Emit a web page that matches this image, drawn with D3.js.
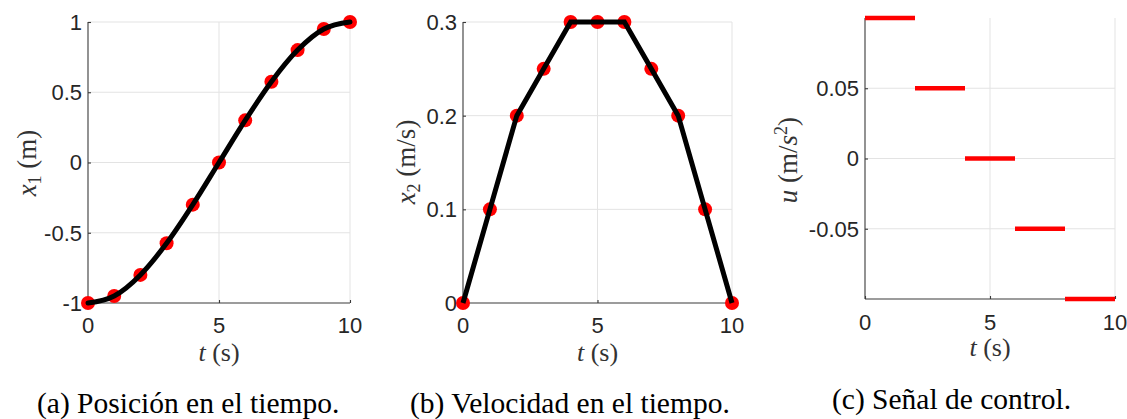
<!DOCTYPE html>
<html>
<head>
<meta charset="utf-8">
<script src="https://cdn.jsdelivr.net/npm/d3@7"></script>
<style>
  html, body { margin: 0; padding: 0; background: #ffffff; }
  svg { display: block; }
</style>
</head>
<body>
<svg id="chart" width="1127" height="419"></svg>
<script>
// ---------------- data ----------------
const timeSamples = [0, 1, 2, 3, 4, 5, 6, 7, 8, 9, 10];
const positionDots = [-1, -0.95, -0.8, -0.575, -0.3, 0, 0.3, 0.575, 0.8, 0.95, 1];
const velocityDots = [0, 0.1, 0.2, 0.25, 0.3, 0.3, 0.3, 0.25, 0.2, 0.1, 0];
const controlStart = [0, 2, 4, 6, 8];
const controlEnd = [2, 4, 6, 8, 10];
const controlValue = [0.1, 0.05, 0, -0.05, -0.1];

const xTicks = [0, 5, 10];
const xTickLabels = ["0", "5", "10"];
const posTicks = [-1, -0.5, 0, 0.5, 1];
const posTickLabels = ["-1", "-0.5", "0", "0.5", "1"];
const velTicks = [0, 0.1, 0.2, 0.3];
const velTickLabels = ["0", "0.1", "0.2", "0.3"];
const ctrlTicks = [-0.05, 0, 0.05];
const ctrlTickLabels = ["-0.05", "0", "0.05"];

const captions = ["(a) Posición en el tiempo.", "(b) Velocidad en el tiempo.", "(c) Señal de control."];

// ---------------- style ----------------
const AXIS = "#3a3a3a";
const TXT = "#262626";
const GRID = "#e3e3e3";
const RED = "#ff0000";
const SANS = '"Liberation Sans", Arimo, Arial, Helvetica, sans-serif';
const SERIF = '"Liberation Serif", Tinos, "Times New Roman", serif';

const svg = d3.select("#chart");

function panel(cfg) {
  const g = svg.append("g");
  const x = d3.scaleLinear().domain([0, 10]).range([cfg.left, cfg.right]);
  const y = d3.scaleLinear().domain(cfg.ydom).range([cfg.bottom, cfg.top]);

  const grid = g.append("g");
  grid.selectAll("line.gx").data(cfg.xGrid).enter().append("line")
    .attr("x1", d => x(d)).attr("x2", d => x(d))
    .attr("y1", cfg.top).attr("y2", cfg.bottom)
    .attr("stroke", GRID).attr("stroke-width", 1);
  grid.selectAll("line.gy").data(cfg.yGrid).enter().append("line")
    .attr("x1", cfg.left).attr("x2", cfg.right)
    .attr("y1", d => y(d)).attr("y2", d => y(d))
    .attr("stroke", GRID).attr("stroke-width", 1);

  const ax = g.append("g").attr("transform", `translate(0,${cfg.bottom})`)
    .call(d3.axisTop(x).tickValues(xTicks).tickSize(3).tickFormat(""));
  ax.select(".domain").attr("d", `M${cfg.left},0H${cfg.right}`);
  const ay = g.append("g").attr("transform", `translate(${cfg.left},0)`)
    .call(d3.axisRight(y).tickValues(cfg.yTicks).tickSize(3).tickFormat(""));
  ay.select(".domain").attr("d", `M0,${cfg.top}V${cfg.bottom}`);
  [ax, ay].forEach(a => {
    a.selectAll(".domain").attr("stroke", AXIS).attr("stroke-width", 1.1).attr("fill", "none");
    a.selectAll(".tick line").attr("stroke", AXIS).attr("stroke-width", 1.1);
  });

  g.selectAll("text.xt").data(xTicks).enter().append("text")
    .attr("x", d => x(d)).attr("y", cfg.bottom + cfg.xLabelOff)
    .attr("text-anchor", "middle")
    .style("font-family", SANS).style("font-size", "22px").attr("fill", TXT)
    .text((d, i) => xTickLabels[i]);
  g.selectAll("text.yt").data(cfg.yTicks).enter().append("text")
    .attr("x", cfg.left - 6).attr("y", d => y(d)).attr("dy", "0.36em")
    .attr("text-anchor", "end")
    .style("font-family", SANS).style("font-size", "22px").attr("fill", TXT)
    .text((d, i) => cfg.yTickLabels[i]);

  const xt = g.append("text")
    .attr("x", (cfg.left + cfg.right) / 2).attr("y", cfg.bottom + cfg.xTitleOff)
    .attr("text-anchor", "middle")
    .style("font-family", SERIF).style("font-size", "26px").attr("fill", "#333");
  xt.append("tspan").style("font-style", "italic").text("t");
  xt.append("tspan").text(" (s)");

  const yt = g.append("text")
    .attr("transform", `translate(${cfg.yTitleX},${cfg.yTitleY}) rotate(-90)`)
    .attr("text-anchor", "middle")
    .style("font-family", SERIF).style("font-size", "27px").attr("fill", "#333");
  cfg.yTitle(yt);

  return { g, x, y };
}

// ---------- Panel A ----------
const A = panel({
  left: 88, right: 350, top: 22, bottom: 303, ydom: [-1, 1],
  yTicks: posTicks, yTickLabels: posTickLabels,
  xGrid: [5, 10], yGrid: [-0.5, 0, 0.5, 1],
  xLabelOff: 30, xTitleOff: 58, yTitleX: 36, yTitleY: 163,
  yTitle: t => {
    t.append("tspan").style("font-style", "italic").text("x");
    t.append("tspan").style("font-size", "18px").attr("dy", 5).text("1");
    t.append("tspan").attr("dy", -5).text(" (m)");
  }
});
A.g.selectAll("circle").data(timeSamples).enter().append("circle")
  .attr("cx", d => A.x(d)).attr("cy", (d, i) => A.y(positionDots[i]))
  .attr("r", 7).attr("fill", RED);
A.g.append("path")
  .datum(timeSamples)
  .attr("d", d3.line().x(d => A.x(d)).y((d, i) => A.y(positionDots[i])).curve(d3.curveMonotoneX))
  .attr("fill", "none").attr("stroke", "#000").attr("stroke-width", 5)
  .attr("stroke-linejoin", "round").attr("stroke-linecap", "round");

// ---------- Panel B ----------
const B = panel({
  left: 463, right: 732, top: 22, bottom: 303, ydom: [0, 0.3],
  yTicks: velTicks, yTickLabels: velTickLabels,
  xGrid: [5, 10], yGrid: [0.1, 0.2, 0.3],
  xLabelOff: 30, xTitleOff: 58, yTitleX: 415, yTitleY: 162,
  yTitle: t => {
    t.append("tspan").style("font-style", "italic").text("x");
    t.append("tspan").style("font-size", "18px").attr("dy", 5).text("2");
    t.append("tspan").attr("dy", -5).text(" (m/s)");
  }
});
B.g.selectAll("circle").data(timeSamples).enter().append("circle")
  .attr("cx", d => B.x(d)).attr("cy", (d, i) => B.y(velocityDots[i]))
  .attr("r", 7).attr("fill", RED);
B.g.append("path")
  .datum(timeSamples)
  .attr("d", d3.line().x(d => B.x(d)).y((d, i) => B.y(velocityDots[i])))
  .attr("fill", "none").attr("stroke", "#000").attr("stroke-width", 5)
  .attr("stroke-linejoin", "miter").attr("stroke-linecap", "butt");

// ---------- Panel C ----------
const C = panel({
  left: 865, right: 1115, top: 18, bottom: 299, ydom: [-0.1, 0.1],
  yTicks: ctrlTicks, yTickLabels: ctrlTickLabels,
  xGrid: [5, 10], yGrid: [-0.05, 0, 0.05],
  xLabelOff: 31, xTitleOff: 57, yTitleX: 797, yTitleY: 160,
  yTitle: t => {
    t.append("tspan").style("font-style", "italic").text("u");
    t.append("tspan").text(" (m/");
    t.append("tspan").style("font-style", "italic").text("s");
    t.append("tspan").style("font-size", "18px").attr("dy", -10).text("2");
    t.append("tspan").attr("dy", 10).text(")");
  }
});
C.g.selectAll("line.seg").data(controlValue).enter().append("line")
  .attr("x1", (d, i) => C.x(controlStart[i])).attr("x2", (d, i) => C.x(controlEnd[i]))
  .attr("y1", d => C.y(d)).attr("y2", d => C.y(d))
  .attr("stroke", RED).attr("stroke-width", 4.5);

// ---------- Captions ----------
const capX = [37, 410, 832];
const capY = [413, 413, 409];
svg.selectAll("text.cap").data(captions).enter().append("text")
  .attr("x", (d, i) => capX[i]).attr("y", (d, i) => capY[i])
  .style("font-family", SERIF).style("font-size", "29.5px").attr("fill", "#000")
  .text(d => d);
</script>
</body>
</html>
